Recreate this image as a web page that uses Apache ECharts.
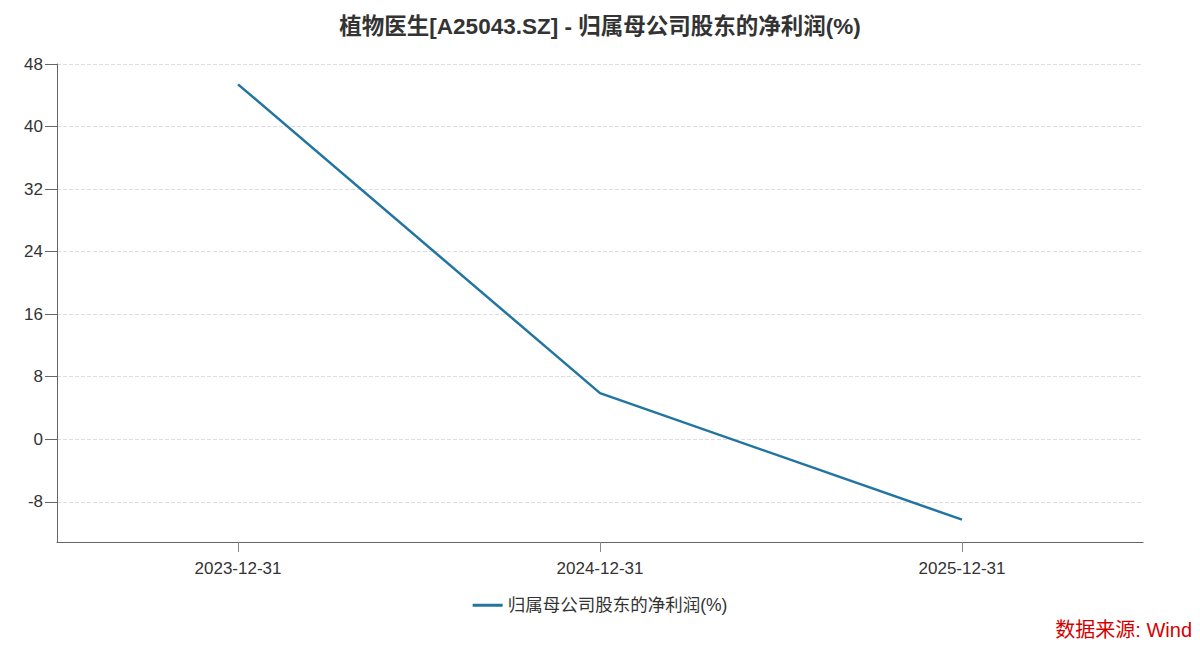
<!DOCTYPE html>
<html>
<head>
<meta charset="utf-8">
<script src="https://cdn.jsdelivr.net/npm/echarts@6/dist/echarts.min.js"></script>
<style>
  html, body { margin: 0; padding: 0; background: #fff; }
  #chart { width: 1200px; height: 646px; }
</style>
</head>
<body>
<div id="chart"></div>
<script>
// 数据
const categories = ['2023-12-31', '2024-12-31', '2025-12-31'];
const profitValues = [45.4, 5.9, -10.28];
const yTicks = [-8, 0, 8, 16, 24, 32, 40, 48];
const yMin = -13.14;
const yMax = 48;

const chart = echarts.init(document.getElementById('chart'), null, { renderer: 'svg' });
const font = 'Helvetica, Arial, "Liberation Sans", "Noto Sans CJK SC", sans-serif';

chart.setOption({
  animation: false,
  title: {
    text: '植物医生[A25043.SZ] - 归属母公司股东的净利润(%)',
    left: 'center',
    top: 10,
    textStyle: { fontSize: 22.5, fontWeight: 'bold', color: '#333', fontFamily: font }
  },
  legend: {
    bottom: 27,
    left: 'center',
    itemWidth: 30,
    itemHeight: 3,
    itemGap: 10,
    icon: 'rect',
    data: ['归属母公司股东的净利润(%)'],
    textStyle: { fontSize: 17.5, color: '#333', fontFamily: font }
  },
  graphic: [{
    type: 'text',
    right: 8,
    bottom: 6,
    style: { text: '数据来源: Wind', fill: '#d40000', fontSize: 20, fontFamily: font }
  }],
  grid: { left: 57, right: 57, top: 64, bottom: 104, containLabel: false },
  xAxis: {
    type: 'category',
    data: categories,
    boundaryGap: true,
    axisLine: { show: true, onZero: false, lineStyle: { color: '#666' } },
    axisTick: { show: true, alignWithLabel: true, interval: 0, length: 10, lineStyle: { color: '#888' } },
    axisLabel: { fontSize: 17, color: '#333', margin: 18, fontFamily: font },
    splitLine: { show: false }
  },
  yAxis: {
    type: 'value',
    min: yMin,
    max: yMax,
    axisLine: { show: true, lineStyle: { color: '#666' } },
    axisTick: { show: true, length: 12, lineStyle: { color: '#666' }, customValues: yTicks },
    axisLabel: { fontSize: 17, color: '#333', margin: 14, fontFamily: font, customValues: yTicks },
    splitLine: { show: true, lineStyle: { type: 'dashed', color: '#ddd' } }
  },
  series: [{
    name: '归属母公司股东的净利润(%)',
    type: 'line',
    data: profitValues,
    symbol: 'none',
    lineStyle: { width: 2.5, color: '#2275a0' },
    itemStyle: { color: '#2275a0' }
  }]
});
</script>
</body>
</html>
